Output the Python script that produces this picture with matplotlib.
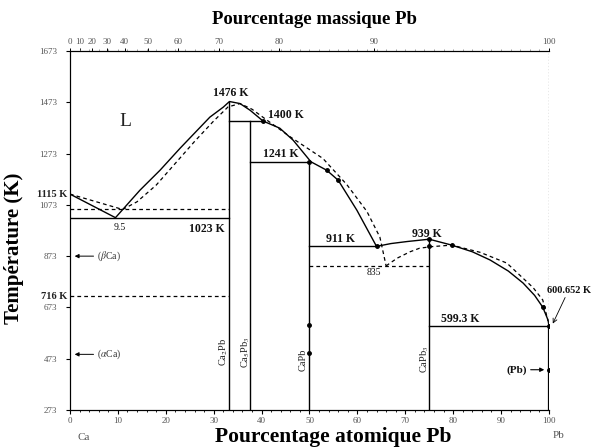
import matplotlib
matplotlib.use("Agg")
import matplotlib.pyplot as plt
import numpy as np

plt.rcParams['font.family'] = ['Liberation Serif', 'DejaVu Serif']
plt.rcParams['mathtext.fontset'] = 'stix'

# liquidus (trait plein)
liq_x = [0, 9.5, 14.6, 18.8, 23, 29.2, 32, 33.3, 35.5, 37.6, 40.3, 43.8, 46.6,
         50.3, 53.6, 56, 59.9, 64, 67, 70.4, 75, 79.7, 84, 87.7, 91.5, 94.6,
         97, 98.7, 99.8, 100]
liq_T = [1115, 1023, 1130, 1208, 1294, 1415, 1454, 1476, 1468, 1442, 1400, 1372,
         1325, 1241, 1208, 1169, 1052, 911, 922, 930, 939, 916, 890, 858, 815,
         768, 720, 674, 624, 600.652]

# liquidus calcule (pointilles)
calc_left_x = [0, 11]
calc_left_T = [1115, 1055]
calc_mid_x = [11, 14, 18, 22, 26, 30, 33, 35.5, 38, 41, 46, 52.8, 57.8, 62, 64.7, 66]
calc_mid_T = [1055, 1085, 1150, 1235, 1320, 1400, 1455, 1468, 1446, 1405, 1338,
              1254, 1152, 1047, 947, 835]
calc_right_x = [66, 68.3, 71, 73, 75.5, 79.7, 85.6, 91.2, 96.7, 98.7, 99.8]
calc_right_T = [835, 865, 890, 904, 910, 916, 888, 846, 750, 702, 620]

# paliers (x debut, x fin, T)
plateaux = [(0, 33.3, 1023), (33.3, 40.3, 1400), (37.5, 50, 1241),
            (50, 64, 911), (75, 100, 599.3)]
plateaux_calc = [(0, 33.3, 1055), (0, 33.3, 716), (50, 75, 835)]

# composes definis (x, T max)
compounds = [(33.3, 1476), (37.5, 1400), (50, 1241), (75, 939)]
compound_names = ['Ca$_2$Pb', 'Ca$_5$Pb$_3$', 'CaPb', 'CaPb$_3$']
compound_label_x = [32.1, 36.6, 48.7, 74.0]
compound_label_T = [500, 500, 470, 470]

# points experimentaux
pts_x = [40.3, 50, 53.6, 56, 64, 75, 75, 79.7, 98.7, 100, 50, 50, 100]
pts_T = [1400, 1241, 1208, 1169, 911, 939, 911, 916, 674, 600.652, 604, 495, 430]

# temperatures annotees
temp_labels = ['1476 K', '1400 K', '1241 K', '1023 K', '911 K', '939 K', '599.3 K', '9.5', '835']
temp_x = [33.5, 45.0, 44.0, 28.5, 56.5, 74.5, 81.5, 10.3, 63.5]
temp_T = [1508, 1425, 1272, 980, 940, 958, 627, 985, 808]

yticks = [273, 473, 673, 873, 1073, 1273, 1473, 1673]
xticks = [0, 10, 20, 30, 40, 50, 60, 70, 80, 90, 100]
mass_ticks = [0, 10, 20, 30, 40, 50, 60, 70, 80, 90, 100]

M_PB, M_CA = 207.2, 40.08


def mass_to_atomic(w):
    w = np.asarray(w, dtype=float)
    n_pb = w / M_PB
    n_ca = (100 - w) / M_CA
    return 100 * n_pb / (n_pb + n_ca)


fig = plt.figure(figsize=(5.96, 4.47), dpi=100)
ax = fig.add_axes([0.1174, 0.0828, 0.8037, 0.8031])
ax.set_xlim(0, 100)
ax.set_ylim(273, 1673)

lw = 1.0
ax.plot(liq_x, liq_T, color='k', lw=lw)
for xs, ts in [(calc_left_x, calc_left_T), (calc_mid_x, calc_mid_T), (calc_right_x, calc_right_T)]:
    ax.plot(xs, ts, color='k', lw=0.9, ls=(0, (3, 2.5)))

for x0, x1, t in plateaux:
    ax.plot([x0, x1], [t, t], color='k', lw=lw)
for x0, x1, t in plateaux_calc:
    ax.plot([x0, x1], [t, t], color='k', lw=0.9, ls=(0, (3, 2.5)))

for x, t in compounds:
    ax.plot([x, x], [273, t], color='k', lw=lw)
for name, x, t in zip(compound_names, compound_label_x, compound_label_T):
    ax.text(x, t, name, rotation=90, ha='center', va='center', fontsize=7.5, color='#222')

# Pb pur : trait plein sous le palier, pointille au-dessus
ax.plot([100, 100], [273, 600.652], color='k', lw=1.6)
ax.plot([100, 100], [600.652, 1673], color='#555', lw=0.9, ls=(0, (1, 1.5)))

ax.plot(pts_x, pts_T, 'o', color='k', ms=2.5)

for s, x, t in zip(temp_labels, temp_x, temp_T):
    bold = 'K' in s
    ax.text(x, t, s, ha='center', va='center', fontsize=8.5 if bold else 7,
            fontweight='bold' if bold else 'normal', color='#111')

ax.text(11.5, 1400, 'L', fontsize=14, ha='center', va='center', color='#222')

# solutions solides
ax.annotate('', xy=(0.4, 873), xytext=(5.5, 873),
            arrowprops=dict(arrowstyle='-|>', color='k', lw=0.7, mutation_scale=6))
ax.text(5.6, 873, r'($\beta$Ca)', fontsize=7, va='center', ha='left', color='#333')
ax.annotate('', xy=(0.4, 490), xytext=(5.5, 490),
            arrowprops=dict(arrowstyle='-|>', color='k', lw=0.7, mutation_scale=6))
ax.text(5.6, 490, r'($\alpha$Ca)', fontsize=7, va='center', ha='left', color='#333')
ax.annotate('', xy=(99.6, 430), xytext=(95.6, 430),
            arrowprops=dict(arrowstyle='-|>', color='k', lw=0.8, mutation_scale=6))
ax.text(95.4, 430, '(Pb)', fontsize=8, fontweight='bold', va='center', ha='right', color='#111')

ax.annotate('600.652 K', xy=(100.8, 610), xytext=(99.5, 740), fontsize=7.5,
            fontweight='bold', color='#111', ha='left', va='center', annotation_clip=False,
            arrowprops=dict(arrowstyle='->', color='k', lw=0.6, shrinkA=0, shrinkB=0))

# repères à gauche
ax.text(-0.6, 1115, '1115 K', ha='right', va='center', fontsize=7.5, fontweight='bold', color='#222')
ax.text(-0.6, 716, '716 K', ha='right', va='center', fontsize=7.5, fontweight='bold', color='#222')

# axes
ax.spines['right'].set_visible(False)
ax.set_yticks(yticks)
ax.set_xticks(xticks)
ax.set_xticks(np.arange(0, 101, 2), minor=True)
ax.tick_params(axis='both', labelsize=6.5, labelcolor='#555', length=3, width=0.8, pad=2)
ax.tick_params(axis='x', which='minor', length=1.5, width=0.6)
ax.tick_params(axis='y', pad=6)
ax.set_xticklabels([str(v) for v in xticks])

top = ax.twiny()
top.set_xlim(0, 100)
top.set_xticks(mass_to_atomic(mass_ticks))
top.set_xticklabels([str(v) for v in mass_ticks])
top.set_xticks(np.arange(0, 101, 2), minor=True)
top.tick_params(axis='x', labelsize=6.5, labelcolor='#555', length=2.5, width=0.7, pad=1)
top.tick_params(axis='x', which='minor', length=1.2, width=0.5, color='#777')
top.spines['right'].set_visible(False)

fig.text(77 / 596, 1 - 437 / 447, 'Ca', fontsize=8, color='#555', ha='left', va='center')
fig.text(553 / 596, 1 - 435 / 447, 'Pb', fontsize=8, color='#555', ha='left', va='center')

fig.text(333 / 596, 1 - 437 / 447, 'Pourcentage atomique Pb', fontsize=15.5,
         fontweight='bold', ha='center', va='center')
fig.text(315 / 596, 1 - 20 / 447, 'Pourcentage massique Pb', fontsize=13.5,
         fontweight='bold', ha='center', va='center')
fig.text(14 / 596, 1 - 248 / 447, 'Température (K)', fontsize=15, rotation=90,
         fontweight='bold', ha='center', va='center')

fig.savefig('out.png', dpi=100)
